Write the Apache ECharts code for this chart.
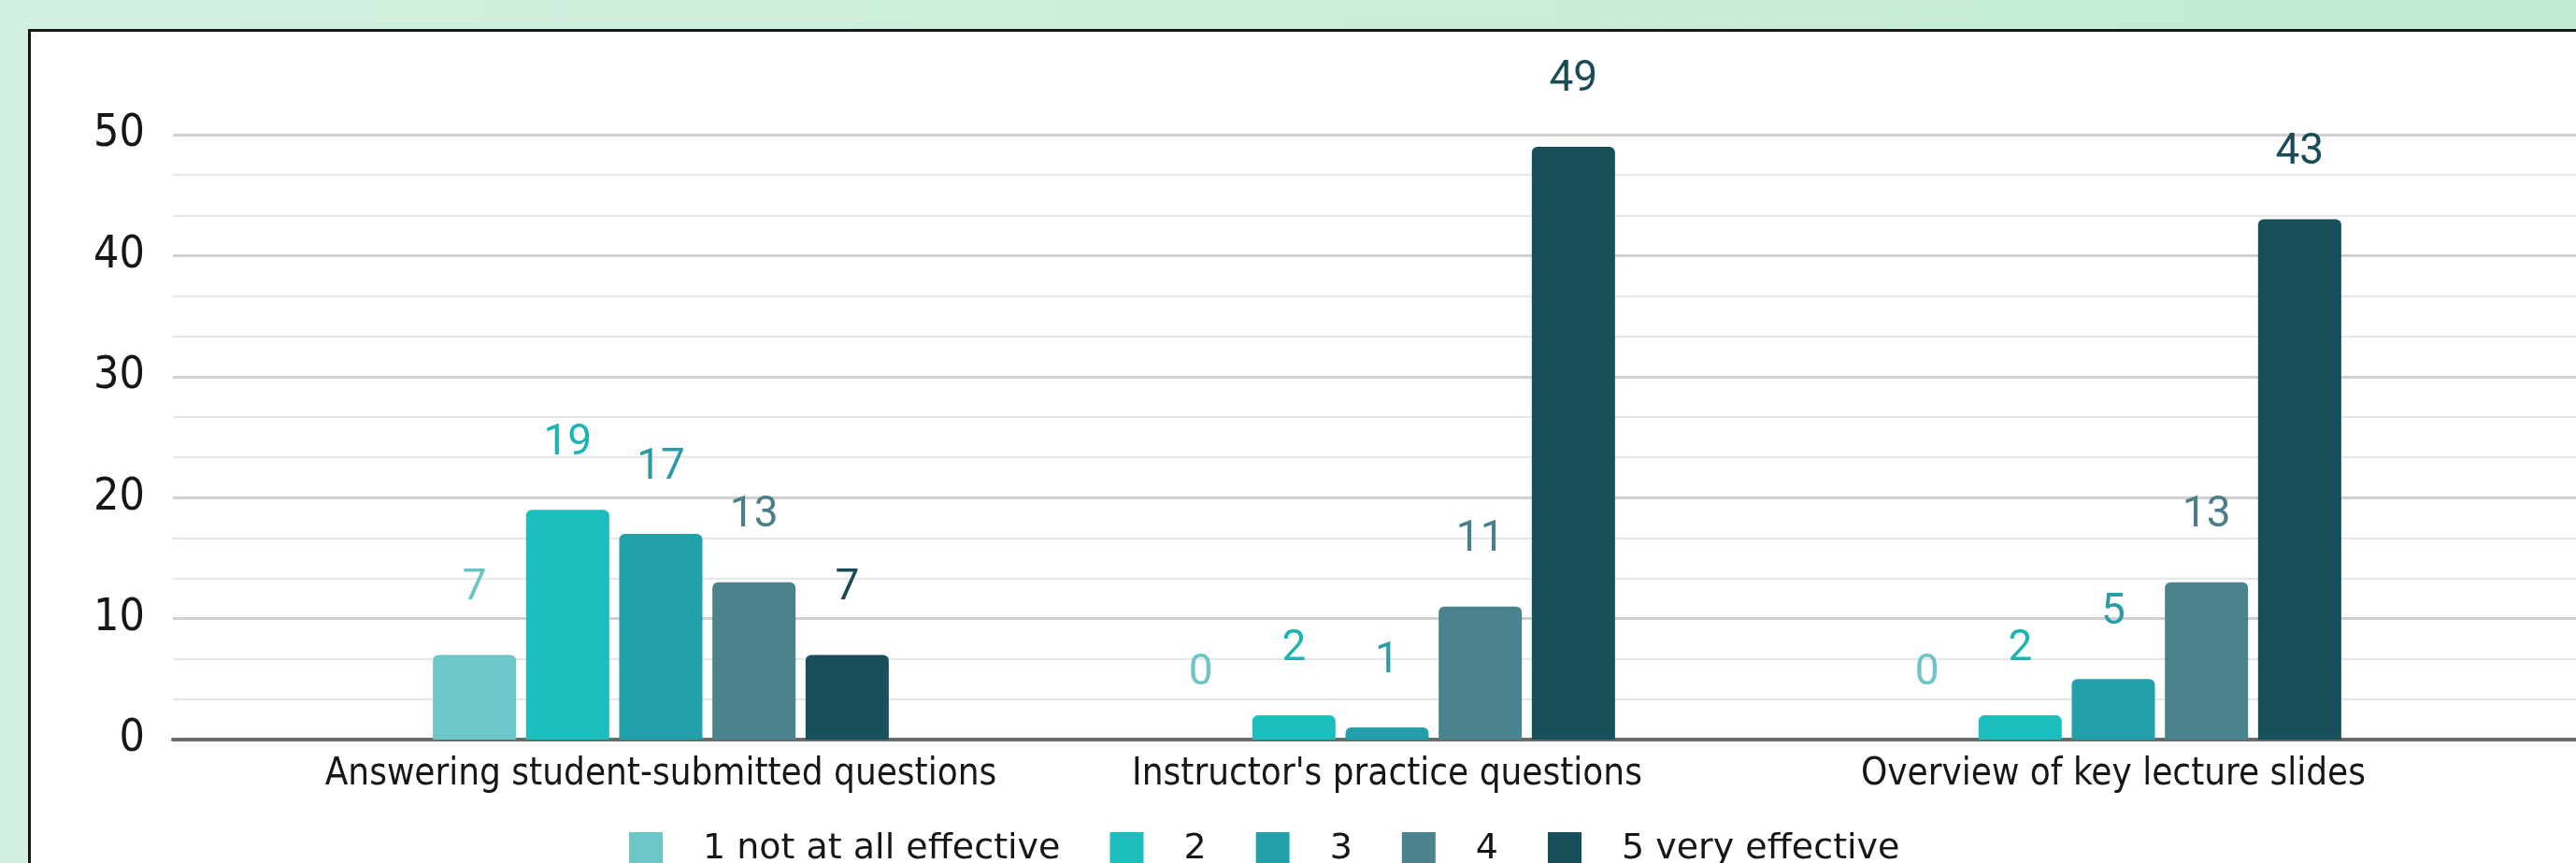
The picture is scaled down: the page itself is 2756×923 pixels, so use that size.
<!DOCTYPE html>
<html>
<head>
<meta charset="utf-8">
<script src="https://cdn.jsdelivr.net/npm/echarts@6/dist/echarts.min.js"></script>
<style>
  html, body { margin: 0; padding: 0; }
  body { width: 2756px; height: 923px; overflow: hidden; position: relative;
         background: linear-gradient(100deg, #d3f1e1 0%, #c9eed8 50%, #c1ead2 100%); }
  #panel { position: absolute; left: 30px; top: 31px; width: 2760px; height: 900px;
           background: #ffffff; border-top: 3px solid #151515; border-left: 3px solid #151515; }
  #chart { position: absolute; left: 0; top: 0; width: 2756px; height: 923px; }
</style>
</head>
<body>
<div id="panel"></div>
<div id="chart"></div>
<script>
const categories = ["Answering student-submitted questions", "Instructor's practice questions", "Overview of key lecture slides"];
const seriesNames = ["1 not at all effective", "2", "3", "4", "5 very effective"];
const rating1 = [7, 0, 0];
const rating2 = [19, 2, 2];
const rating3 = [17, 1, 5];
const rating4 = [13, 11, 13];
const rating5 = [7, 49, 43];
const yTicks = [0, 10, 20, 30, 40, 50];

const colors = ["#6cc8c8", "#1bbdbd", "#22a1ab", "#4a828d", "#174f5b"];
const labelColors = ["#6cc4c4", "#1ab4b4", "#2a9ca6", "#4a7f89", "#1a4c58"];
const values = [rating1, rating2, rating3, rating4, rating5];

const condensed = '"DejaVu Sans Condensed", "DejaVu Sans", sans-serif';

const chart = echarts.init(document.getElementById('chart'), null, { renderer: 'canvas' });

const series = seriesNames.map((name, i) => ({
  name: name,
  type: 'bar',
  xAxisIndex: 1,
  yAxisIndex: 1,
  data: values[i],
  barWidth: 89,
  barGap: '12%',
  itemStyle: { color: colors[i], borderRadius: [6, 6, 0, 0] },
  label: {
    show: true,
    position: 'top',
    distance: 48,
    color: labelColors[i],
    fontFamily: 'Roboto',
    fontSize: 46
  },
  emphasis: { disabled: true }
}));

chart.setOption({
  animation: false,
  backgroundColor: 'transparent',
  grid: [
    { left: 185, right: 0, top: 144, bottom: 132, containLabel: false },
    { left: 318.5, right: 106.5, top: 144, bottom: 132, containLabel: false }
  ],
  xAxis: [
    {
      gridIndex: 0, type: 'value', min: 0, max: 1,
      axisLabel: { show: false }, axisTick: { show: false }, splitLine: { show: false },
      axisLine: { show: true, lineStyle: { color: '#6a6a6a', width: 4 } }
    },
    {
      gridIndex: 1, type: 'category', data: categories,
      axisLine: { show: false }, axisTick: { show: false },
      axisLabel: { color: '#161616', fontFamily: condensed, fontSize: 40, margin: 18, interval: 0 }
    }
  ],
  yAxis: [
    {
      gridIndex: 0, type: 'value', min: yTicks[0], max: yTicks[yTicks.length - 1], interval: 10,
      axisLine: { show: false }, axisTick: { show: false },
      axisLabel: { color: '#161616', fontFamily: condensed, fontSize: 48, margin: 30 },
      splitLine: { show: true, lineStyle: { color: '#cfcfcf', width: 3 } },
      minorTick: { show: false, splitNumber: 3 },
      minorSplitLine: { show: true, lineStyle: { color: '#e6e6e6', width: 2 } }
    },
    {
      gridIndex: 1, type: 'value', min: yTicks[0], max: yTicks[yTicks.length - 1], interval: 10,
      show: false, splitLine: { show: false }
    }
  ],
  legend: {
    left: 668,
    top: 884,
    itemWidth: 36,
    itemHeight: 36,
    itemGap: 53,
    icon: 'rect',
    textStyle: { color: '#161616', fontFamily: '"DejaVu Sans", sans-serif', fontSize: 38, padding: [0, 0, 0, 38] },
    data: seriesNames
  },
  series: series
});
</script>
</body>
</html>
